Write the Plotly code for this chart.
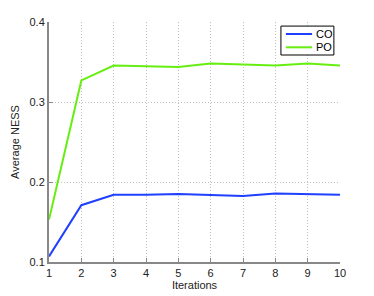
import plotly.graph_objects as go

iterations = [1, 2, 3, 4, 5, 6, 7, 8, 9, 10]
series_names = ["CO", "PO"]
series_colors = ["#2040ff", "#66ee11"]
co_values = [0.107, 0.171, 0.184, 0.184, 0.185, 0.184, 0.1825, 0.1855, 0.185, 0.184]
po_values = [0.153, 0.327, 0.3455, 0.3445, 0.3437, 0.3482, 0.3465, 0.3457, 0.3482, 0.3457]
y_ticks = [0.1, 0.2, 0.3, 0.4]
y_tick_labels = ["0.1", "0.2", "0.3", "0.4"]

FONT = "Liberation Sans, Arial, Helvetica"

fig = go.Figure()
for name, color, vals in zip(series_names, series_colors, [co_values, po_values]):
    fig.add_trace(go.Scatter(x=iterations, y=vals, mode="lines", name=name,
                             line=dict(color=color, width=2), showlegend=False))

axis_common = dict(
    showline=True, linecolor="#888888", linewidth=2,
    ticks="inside", ticklen=4, tickcolor="#888888",
    showgrid=True, gridcolor="#c0c0c0", griddash="1px,2px", gridwidth=1,
    zeroline=False, mirror=False, automargin=False,
    tickfont=dict(family=FONT, size=11, color="#222222"),
    title_font=dict(family=FONT, size=11, color="#222222"),
)

fig.update_xaxes(range=[1, 10], tickvals=iterations, title_text="Iterations",
                 title_standoff=2, **axis_common)
fig.update_yaxes(range=[0.1, 0.4], tickvals=y_ticks, ticktext=y_tick_labels,
                 title_text="Average NESS", title_standoff=8, **axis_common)

# Compact MATLAB-style legend box
fig.add_shape(type="rect", xref="paper", yref="paper", x0=0.797, x1=0.979, y0=0.8625, y1=0.983,
              line=dict(color="#000000", width=1), fillcolor="white", layer="above")
legend_y = [0.95, 0.8945]
for name, color, ly in zip(series_names, series_colors, legend_y):
    fig.add_shape(type="line", xref="paper", yref="paper", x0=0.814, x1=0.904, y0=ly, y1=ly,
                  line=dict(color=color, width=2), layer="above")
    fig.add_annotation(xref="paper", yref="paper", x=0.910, y=ly, text=name, showarrow=False,
                       xanchor="left", yanchor="middle",
                       font=dict(family=FONT, size=11, color="#000000"))

fig.update_layout(
    width=366, height=288,
    margin=dict(l=41, r=34, t=14, b=34),
    paper_bgcolor="white", plot_bgcolor="white",
)

fig.write_html("out.html")
